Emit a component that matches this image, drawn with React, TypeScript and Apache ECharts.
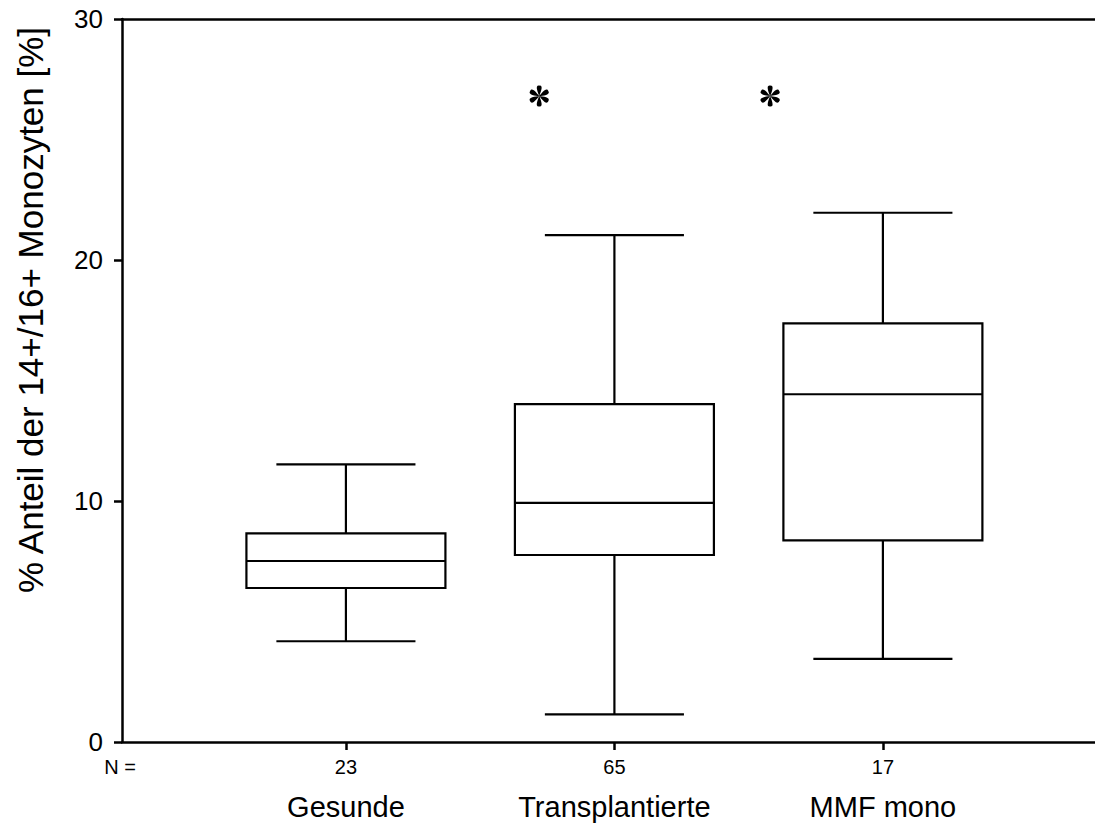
import React, { useEffect, useRef } from "react";
import * as echarts from "echarts";

// ---- data ----
const categories = ["Gesunde", "Transplantierte", "MMF mono"];
const nCounts = [23, 65, 17];
const whiskerLow = [4.18, 1.15, 3.45];
const q1 = [6.39, 7.76, 8.37];
const median = [7.51, 9.92, 14.43];
const q3 = [8.66, 14.02, 17.37];
const whiskerHigh = [11.52, 21.03, 21.96];
const starX = [1.72, 2.58];
const starY = [26.8, 26.8];
const yMin = 0;
const yMax = 30;
const yInterval = 10;
const yTitle = "% Anteil der 14+/16+ Monozyten [%]";

const FONT = "'Liberation Sans', Arial, sans-serif";

function asteriskPath(): string {
  const petal = [
    [0, 0],
    [-1.2, -3], [-4.6, -10.6], [0, -10],
    [4.6, -10.6], [1.2, -3], [0, 0],
  ];
  let d = "";
  for (let k = 0; k < 6; k++) {
    const a = (k * Math.PI) / 3;
    const c = Math.cos(a), s = Math.sin(a);
    const r = petal.map(([x, y]) => [x * c - y * s + 12, x * s + y * c + 12].map((v) => v.toFixed(2)).join(" "));
    d += `M${r[0]} C${r[1]} ${r[2]} ${r[3]} C${r[4]} ${r[5]} ${r[6]} Z `;
  }
  return "path://" + d.trim();
}

export default function App() {
  const ref = useRef<HTMLDivElement>(null);
  useEffect(() => {
    if (!ref.current) return;
    const chart = echarts.init(ref.current, null, { renderer: "svg" });
    const boxData = categories.map((_, i) => [i + 1, whiskerLow[i], q1[i], median[i], q3[i], whiskerHigh[i]]);
    const boxHalf = 0.3706;
    const capHalf = 0.259;
    const stroke = { stroke: "#000", lineWidth: 2.2, fill: "none" };
    chart.setOption({
      animation: false,
      backgroundColor: "#fff",
      grid: { left: 122, top: 19, right: 0, bottom: 81 },
      xAxis: [
        {
          type: "value",
          min: 0.166,
          max: 3.79,
          splitLine: { show: false },
          axisLine: { show: true, onZero: false, lineStyle: { color: "#000", width: 2.5 } },
          axisTick: { show: true, customValues: [1, 2, 3], length: 8, lineStyle: { color: "#000", width: 2.5 } },
          axisLabel: {
            customValues: [1, 2, 3],
            margin: 14,
            formatter: (v: number) => {
              const i = Math.round(v) - 1;
              return `{n|${nCounts[i]}}\n{c|${categories[i]}}`;
            },
            rich: {
              n: { fontSize: 20, lineHeight: 22, color: "#000", fontFamily: FONT },
              c: { fontSize: 29, lineHeight: 58, color: "#000", fontFamily: FONT },
            },
          },
        },
        {
          type: "value",
          position: "top",
          min: 0.166,
          max: 3.79,
          splitLine: { show: false },
          axisLine: { show: true, onZero: false, lineStyle: { color: "#000", width: 2.5 } },
          axisTick: { show: false },
          axisLabel: { show: false },
        },
      ],
      yAxis: {
        type: "value",
        min: yMin,
        max: yMax,
        interval: yInterval,
        splitLine: { show: false },
        axisLine: { show: true, lineStyle: { color: "#000", width: 2.5 } },
        axisTick: { show: true, length: 8, lineStyle: { color: "#000", width: 2.5 } },
        axisLabel: { fontSize: 26, margin: 19, color: "#000", fontFamily: FONT },
      },
      graphic: [
        {
          type: "text",
          x: 30,
          y: 310,
          rotation: Math.PI / 2,
          style: {
            text: yTitle,
            fontSize: 35,
            fontFamily: FONT,
            fill: "#000",
            align: "center",
            verticalAlign: "middle",
          },
        },
        {
          type: "text",
          x: 120,
          y: 767,
          style: {
            text: "N =",
            fontSize: 20,
            fontFamily: FONT,
            fill: "#000",
            align: "center",
            verticalAlign: "middle",
          },
        },
      ],
      series: [
        {
          type: "custom",
          xAxisIndex: 0,
          data: boxData,
          encode: { x: 0, y: [1, 2, 3, 4, 5] },
          renderItem: (params: any, api: any) => {
            const x = api.value(0);
            const lo = api.value(1), a = api.value(2), m = api.value(3), b = api.value(4), hi = api.value(5);
            const p = (dx: number, v: number) => api.coord([x + dx, v]);
            const line = (p1: number[], p2: number[]) => ({
              type: "line",
              shape: { x1: p1[0], y1: p1[1], x2: p2[0], y2: p2[1] },
              style: { ...stroke },
            });
            const tl = p(-boxHalf, b);
            const br = p(boxHalf, a);
            return {
              type: "group",
              children: [
                line(p(0, b), p(0, hi)),
                line(p(0, a), p(0, lo)),
                line(p(-capHalf, hi), p(capHalf, hi)),
                line(p(-capHalf, lo), p(capHalf, lo)),
                {
                  type: "rect",
                  shape: { x: tl[0], y: tl[1], width: br[0] - tl[0], height: br[1] - tl[1] },
                  style: { ...stroke, fill: "#fff" },
                },
                line(p(-boxHalf, m), p(boxHalf, m)),
              ],
            };
          },
        },
        {
          type: "scatter",
          xAxisIndex: 0,
          data: starX.map((x, i) => [x, starY[i]]),
          symbol: asteriskPath(),
          symbolKeepAspect: true,
          symbolSize: 21,
          itemStyle: { color: "#000", opacity: 1 },
        },
      ],
    });
    return () => chart.dispose();
  }, []);
  return <div ref={ref} style={{ position: "fixed", left: 0, top: 0, width: 1095, height: 823 }} />;
}
